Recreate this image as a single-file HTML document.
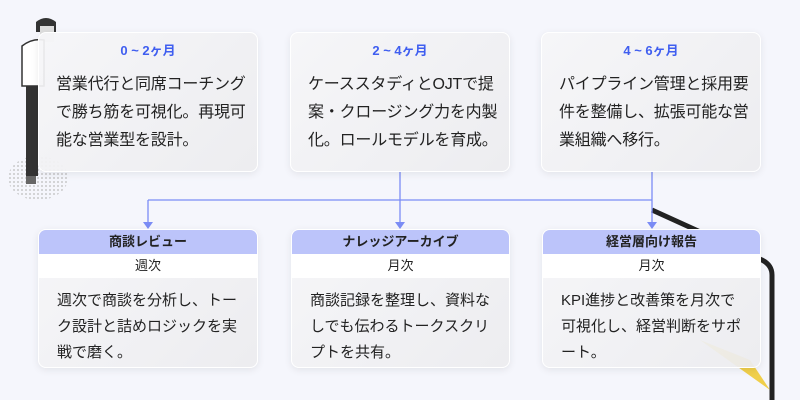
<!DOCTYPE html>
<html><head><meta charset="utf-8"><style>
body{margin:0;width:800px;height:400px;background:#f5f6fc;position:relative;overflow:hidden;font-family:"Liberation Sans","Noto Sans CJK JP",sans-serif;color:#222}
.card{position:absolute;border-radius:8px;background:linear-gradient(135deg,rgba(246,246,248,0.93),rgba(236,236,239,0.93));box-shadow:0 2px 8px rgba(0,0,0,0.08);border:1px solid #fff;box-sizing:border-box;overflow:hidden}
.t{position:absolute;left:0;right:0;top:7px;text-align:center;color:#3f5ef0;font-size:13px;font-weight:bold}
.b{position:absolute;left:17px;right:0;top:38px;font-size:16px;line-height:28px;letter-spacing:-0.2px}
.h{height:24px;background:#bcc4fa;text-align:center;font-size:13px;font-weight:bold;line-height:24px}
.s{height:24px;background:#fff;text-align:center;font-size:13px;line-height:24px}
.bb{padding:10px 6px 0 18px;font-size:15px;line-height:26px}
</style></head><body>
<svg width="800" height="400" style="position:absolute;left:0;top:0">
<defs><pattern id="d" width="4" height="4" patternUnits="userSpaceOnUse"><circle cx="2" cy="2" r="0.9" fill="#bbb"/></pattern></defs>
<ellipse cx="38" cy="178" rx="30" ry="22" fill="url(#d)"/>
<path d="M36 22 q10-8 20 0 v10 h-20z" fill="#333"/>
<rect x="40" y="26" width="14" height="16" fill="#ddd"/>
<path d="M22 46 q10-8 22-6 v46 h-22z" fill="#fff" stroke="#333" stroke-width="1.5"/>
<rect x="26" y="86" width="12" height="90" fill="#333"/>
<rect x="26" y="176" width="10" height="8" fill="#666"/>
<path d="M652 210 l110 50 q10 5 10 15 v130" fill="none" stroke="#222" stroke-width="5"/>
<path d="M700 340 l50 20 l20 30z" fill="#f0cf4a"/>
<g stroke="#7b8cf5" stroke-width="1.3" fill="none">
<path d="M400 171 V200"/><path d="M652 171 V200"/><path d="M148 200 H652"/>
<path d="M148 200 V224"/><path d="M400 200 V224"/><path d="M652 200 V224"/>
</g>
<g fill="#7b8cf5"><path d="M143 222 h10 l-5 7z"/><path d="M395 222 h10 l-5 7z"/><path d="M647 222 h10 l-5 7z"/></g>
</svg>
<div class="card" style="left:38px;top:32px;width:220px;height:140px"><div class="t">0 ~ 2ヶ月</div><div class="b">営業代行と同席コーチング<br>で勝ち筋を可視化。再現可<br>能な営業型を設計。</div></div>
<div class="card" style="left:290px;top:32px;width:220px;height:140px"><div class="t">2 ~ 4ヶ月</div><div class="b">ケーススタディとOJTで提<br>案・クロージング力を内製<br>化。ロールモデルを育成。</div></div>
<div class="card" style="left:541px;top:32px;width:220px;height:140px"><div class="t">4 ~ 6ヶ月</div><div class="b">パイプライン管理と採用要<br>件を整備し、拡張可能な営<br>業組織へ移行。</div></div>
<div class="card" style="left:38px;top:229px;width:220px;height:139px"><div class="h">商談レビュー</div><div class="s">週次</div><div class="bb">週次で商談を分析し、トー<br>ク設計と詰めロジックを実<br>戦で磨く。</div></div>
<div class="card" style="left:291px;top:229px;width:219px;height:139px"><div class="h">ナレッジアーカイブ</div><div class="s">月次</div><div class="bb">商談記録を整理し、資料な<br>しでも伝わるトークスクリ<br>プトを共有。</div></div>
<div class="card" style="left:542px;top:229px;width:219px;height:139px"><div class="h">経営層向け報告</div><div class="s">月次</div><div class="bb">KPI進捗と改善策を月次で<br>可視化し、経営判断をサポ<br>ート。</div></div>
</body></html>
